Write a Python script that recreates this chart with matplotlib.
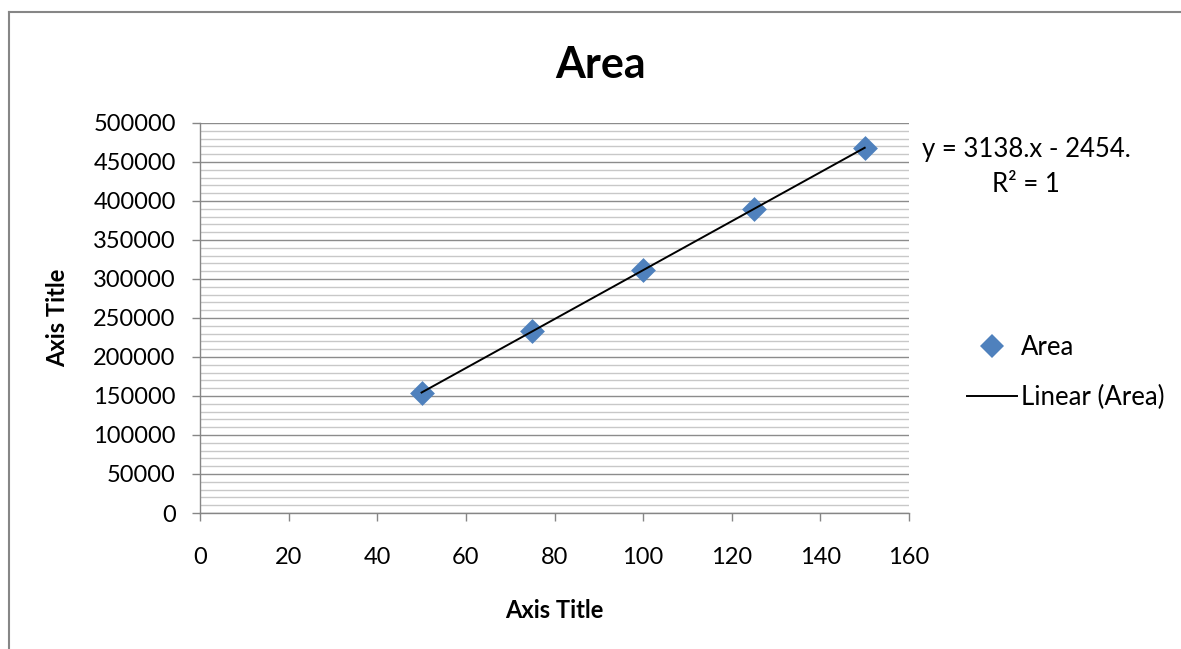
import matplotlib
matplotlib.use("Agg")
import matplotlib.pyplot as plt
from matplotlib.lines import Line2D
from matplotlib.ticker import MultipleLocator
import numpy as np

plt.rcParams['font.family'] = ['Lato', 'DejaVu Sans']

# Data
x_vals = [50, 75, 100, 125, 150]
area_vals = [154446, 232896, 311346, 389796, 468246]
series_name = "Area"
trend_label = "Linear (Area)"
eq_text = "y = 3138.x - 2454.\nR² = 1"
title = "Area"
x_title = "Axis Title"
y_title = "Axis Title"

W, H = 1181, 649
fig = plt.figure(figsize=(W / 100, H / 100), dpi=100)
ax = fig.add_axes([200 / W, 1 - 513 / H, 709 / W, 390 / H])

ax.set_xlim(0, 160)
ax.set_ylim(0, 500000)
ax.yaxis.set_major_locator(MultipleLocator(50000))
ax.yaxis.set_minor_locator(MultipleLocator(10000))
ax.xaxis.set_major_locator(MultipleLocator(20))
ax.grid(which='minor', axis='y', color='#c8c8c8', linewidth=1.0, zorder=0)
ax.grid(which='major', axis='y', color='#8c8c8c', linewidth=1.0, zorder=0)
ax.set_axisbelow(True)

for s in ['top', 'right']:
    ax.spines[s].set_visible(False)
for s in ['left', 'bottom']:
    ax.spines[s].set_color('#868686')
    ax.spines[s].set_linewidth(1.0)
ax.tick_params(which='major', direction='out', length=5.5, color='#868686', width=1.0,
               labelsize=17)
ax.tick_params(which='minor', length=0)
ax.tick_params(axis='x', pad=19)
ax.tick_params(axis='y', pad=12)

# trendline (least squares fit of the series)
coef = np.polyfit(x_vals, area_vals, 1)
xt = np.array([min(x_vals), max(x_vals)])
ax.plot(xt, np.polyval(coef, xt), color='black', linewidth=1.4, zorder=3)
ax.scatter(x_vals, area_vals, marker='D', s=160, color='#4f81bd', zorder=2, linewidths=0)

ax.set_xlabel(x_title, fontsize=17, fontweight='bold', labelpad=22)
ax.set_ylabel(y_title, fontsize=17, fontweight='bold', labelpad=17)

fig.text(601 / W, 1 - 65 / H, title, fontsize=31, fontweight='bold', ha='center', va='center')

fig.text(1026 / W, 1 - 167 / H, eq_text, fontsize=18.5, ha='center', va='center',
         linespacing=1.5, multialignment='center')

handles = [Line2D([], [], marker='D', linestyle='none', color='#4f81bd', markersize=12,
                  markeredgewidth=0),
           Line2D([], [], color='black', linewidth=1.4)]
fig.legend(handles, [series_name, trend_label], loc='center left',
           bbox_to_anchor=(967 / W, 1 - 372.5 / H), frameon=False, fontsize=18.5,
           handlelength=1.95, handletextpad=0.15, labelspacing=0.95,
           borderpad=0, borderaxespad=0)

# chart border (only left and top edges fall inside the image)
fig.add_artist(Line2D([9 / W, 9 / W], [0, 1 - 12 / H], transform=fig.transFigure,
                      color='#868686', linewidth=1.5))
fig.add_artist(Line2D([9 / W, 1], [1 - 12 / H, 1 - 12 / H], transform=fig.transFigure,
                      color='#868686', linewidth=1.5))

fig.savefig("out.png", dpi=100)
